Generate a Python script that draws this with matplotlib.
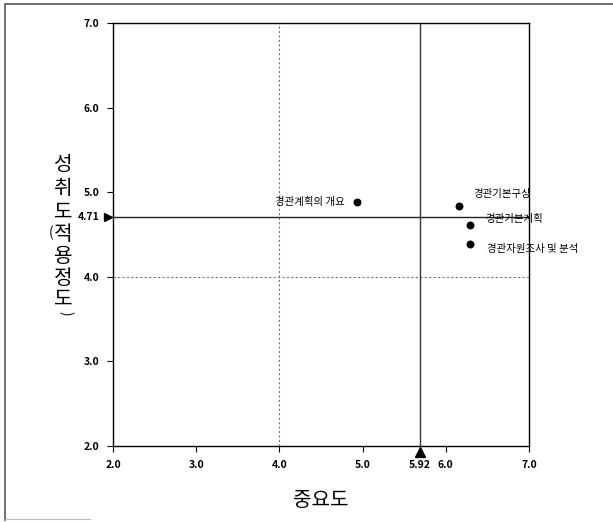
import matplotlib
matplotlib.use("Agg")
import matplotlib.pyplot as plt
from matplotlib.lines import Line2D
from matplotlib.transforms import offset_copy

plt.rcParams['font.family'] = ['Noto Sans CJK KR', 'DejaVu Sans']

# Data
names = ["경관계획의 개요", "경관기본구상", "경관기본계획", "경관자원조사 및 분석"]
importance = [4.93, 6.16, 6.29, 6.29]
achievement = [4.88, 4.84, 4.61, 4.39]
x_ticks = [2.0, 3.0, 4.0, 5.0, 6.0, 7.0]
y_ticks = [2.0, 3.0, 4.0, 5.0, 6.0, 7.0]
x_mean_pos = 5.69   # where the vertical mean line is drawn in the reference
x_mean_label = "5.92"
y_mean = 4.71
y_mean_label = "4.71"
mid = 4.0
x_title = "중요도"
y_title_chars = ["성", "취", "도", "적", "용", "정", "도"]
label_offsets = [(-12, 0, 'right', 'center'), (14, 12, 'left', 'center'),
                 (15, 6, 'left', 'center'), (17, -5, 'left', 'center')]

W, H = 613, 522
fig = plt.figure(figsize=(W/100, H/100), dpi=100)

def fx(px):
    return px / W

def fy(py):
    return 1 - py / H

# page frame (top and left edges, short bottom)
fig.add_artist(Line2D([fx(6), fx(613)], [fy(4), fy(4)], transform=fig.transFigure,
                      color='#555555', linewidth=1.2))
fig.add_artist(Line2D([fx(5), fx(5)], [fy(4), fy(520)], transform=fig.transFigure,
                      color='#555555', linewidth=1.2))
fig.add_artist(Line2D([fx(5), fx(90)], [fy(519), fy(519)], transform=fig.transFigure,
                      color='#bbbbbb', linewidth=0.8))

ax = fig.add_axes([fx(113), fy(446), (529-113)/W, (446-23)/H])
ax.set_xlim(2, 7)
ax.set_ylim(2, 7)

ax.axvline(mid, color='#777777', linestyle=(0, (2, 2)), linewidth=0.8)
ax.axhline(mid, color='#777777', linestyle=(0, (2, 2)), linewidth=0.8)
ax.axvline(x_mean_pos, color='#333333', linewidth=1.0)
ax.axhline(y_mean, color='#222222', linewidth=1.0)

ax.scatter(importance, achievement, s=22, color='black', zorder=5)
for n, x, y, (dx, dy, ha, va) in zip(names, importance, achievement, label_offsets):
    ax.annotate(n, (x, y), xytext=(dx, dy), textcoords='offset pixels',
                ha=ha, va=va, fontsize=7.5, fontweight='medium', color='black')

# triangle markers
tr_x = offset_copy(ax.transData, fig=fig, x=0, y=-6, units='dots')
ax.plot([x_mean_pos], [2.0], marker='^', color='black', markersize=7,
        transform=tr_x, clip_on=False, zorder=6)
tr_y = offset_copy(ax.transData, fig=fig, x=-5, y=0, units='dots')
ax.plot([2.0], [y_mean], marker='>', color='black', markersize=6,
        transform=tr_y, clip_on=False, zorder=6)

ax.set_xticks(x_ticks)
ax.set_xticklabels([f"{v:.1f}" for v in x_ticks], fontsize=7.5, fontweight='bold')
ax.set_yticks(y_ticks)
ax.set_yticklabels([f"{v:.1f}" for v in y_ticks], fontsize=7.5, fontweight='bold')
ax.tick_params(axis='both', direction='out', length=4, width=0.8, pad=6)
ax.text(x_mean_pos, 2.0, x_mean_label,
        transform=offset_copy(ax.transData, fig=fig, x=0, y=-19, units='dots'),
        ha='center', va='center', fontsize=7.5, fontweight='bold')
ax.text(2.0, y_mean, y_mean_label,
        transform=offset_copy(ax.transData, fig=fig, x=-13, y=0, units='dots'),
        ha='right', va='center', fontsize=7.5, fontweight='bold')

for s in ax.spines.values():
    s.set_linewidth(1.0)
    s.set_color('black')

fig.text(fx(321), fy(500), x_title, ha='center', va='center', fontsize=14.5,
         fontweight='medium')

# vertical (stacked) y title
rows = [165, 189, 212, 234, 257, 278, 299]
for ch, r in zip(y_title_chars, rows):
    fig.text(fx(63), fy(r), ch, ha='center', va='center', fontsize=14.5,
             fontweight='medium')
fig.text(fx(51), fy(233), "(", ha='center', va='center', fontsize=10)
fig.text(fx(66), fy(313), ")", ha='center', va='center', fontsize=10, rotation=-90)

fig.savefig("out.png", dpi=100)
